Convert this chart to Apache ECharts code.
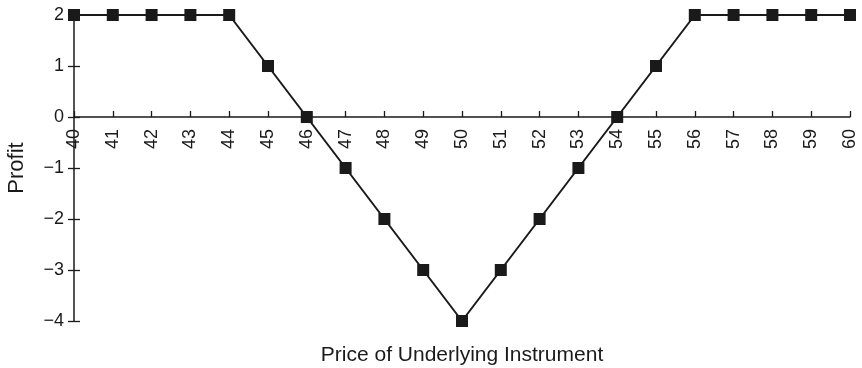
<!DOCTYPE html>
<html><head><meta charset="utf-8">
<script src="https://cdn.jsdelivr.net/npm/echarts@6/dist/echarts.min.js"></script>
<style>html,body{margin:0;padding:0;background:#fff}#c{width:862px;height:368px}</style>
</head><body><div id="c"></div>
<script>
const prices = [40,41,42,43,44,45,46,47,48,49,50,51,52,53,54,55,56,57,58,59,60];
const profit = [2,2,2,2,2,1,0,-1,-2,-3,-4,-3,-2,-1,0,1,2,2,2,2,2];
const xTitle = 'Price of Underlying Instrument';
const yTitle = 'Profit';

const yMin = -4, yMax = 2;
const gridTop = 15, gridBottom = 47, H = 368;
const gridH = H - gridTop - gridBottom;
const zeroOffset = -gridH * (0 - yMin) / (yMax - yMin);

const chart = echarts.init(document.getElementById('c'), null, {renderer:'canvas'});
const font = 'Liberation Sans, Arial, sans-serif';
const ink = '#1a1a1a';
chart.setOption({
  animation:false,
  backgroundColor:'#fff',
  grid:{left:74,right:12,top:gridTop,bottom:gridBottom,containLabel:false,outerBoundsMode:'none'},
  xAxis:[{type:'value',min:40,max:60,interval:1,position:'bottom',offset:zeroOffset,
    axisLine:{onZero:false,lineStyle:{color:ink,width:1.5}},
    axisTick:{show:true,inside:true,length:6,lineStyle:{color:ink,width:1.3}},
    splitLine:{show:false},
    axisLabel:{rotate:90,fontFamily:font,fontSize:18,color:ink,margin:12}},
    {type:'value',min:40,max:60,position:'bottom',name:xTitle,nameLocation:'middle',nameGap:24,
    nameTextStyle:{fontFamily:font,fontSize:21,color:ink},
    axisLine:{show:false},axisTick:{show:false},axisLabel:{show:false},splitLine:{show:false}}],
  yAxis:[{type:'value',min:yMin,max:yMax,interval:1,name:yTitle,nameLocation:'middle',nameGap:46,
    nameTextStyle:{fontFamily:font,fontSize:22,color:ink},
    axisLine:{show:true,lineStyle:{color:ink,width:1.5}},
    axisTick:{show:true,length:6,lineStyle:{color:ink,width:1.3}},
    splitLine:{show:false},
    axisLabel:{fontFamily:font,fontSize:18,color:ink,margin:10,
      formatter:v=>v<0?'\u2212'+Math.abs(v):String(v)}},
    {type:'value',min:yMin,max:yMax,interval:1,position:'left',
    axisLine:{show:false},
    axisTick:{show:true,inside:true,length:6,lineStyle:{color:ink,width:1.3}},
    axisLabel:{show:false},splitLine:{show:false}}],
  series:[{type:'line',data:prices.map((p,i)=>[p,profit[i]]),
    symbol:'rect',symbolSize:12,
    lineStyle:{color:ink,width:2},
    itemStyle:{color:ink}}]
});
</script></body></html>
